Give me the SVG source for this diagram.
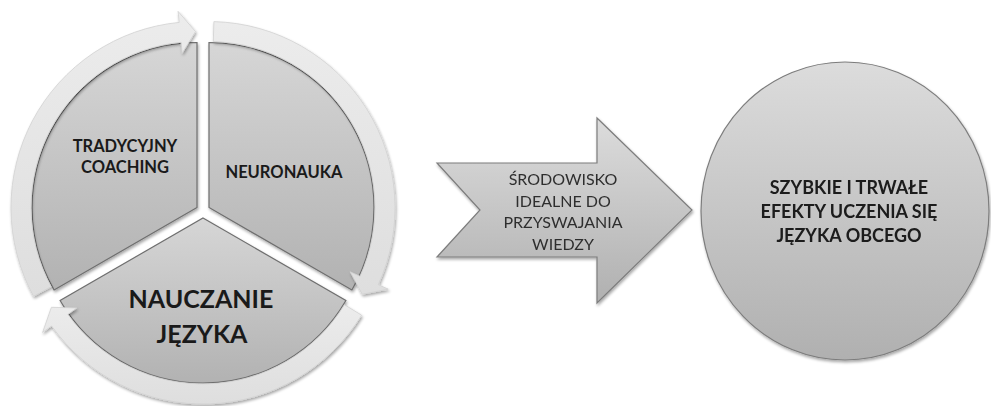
<svg xmlns="http://www.w3.org/2000/svg" width="991" height="406" viewBox="0 0 991 406">
<defs>
<linearGradient id="gPie" x1="0" y1="0" x2="0" y2="1">
<stop offset="0" stop-color="#d6d6d6"/>
<stop offset="1" stop-color="#b2b2b2"/>
</linearGradient>
<linearGradient id="gRing" x1="0" y1="0" x2="0" y2="1">
<stop offset="0" stop-color="#ececec"/>
<stop offset="1" stop-color="#dedede"/>
</linearGradient>
<linearGradient id="gShape" x1="0" y1="0" x2="0" y2="1">
<stop offset="0" stop-color="#dcdcdc"/>
<stop offset="1" stop-color="#b0b0b0"/>
</linearGradient>
<filter id="sh" x="-10%" y="-10%" width="120%" height="120%">
<feGaussianBlur in="SourceAlpha" stdDeviation="1.5"/>
<feOffset dx="1" dy="1.5" result="b"/>
<feComponentTransfer><feFuncA type="linear" slope="0.35"/></feComponentTransfer>
<feMerge><feMergeNode/><feMergeNode in="SourceGraphic"/></feMerge>
</filter>
</defs>
<style>
.pie{fill:url(#gPie);stroke:#6f6f6f;stroke-width:1.2}
.ring{fill:url(#gRing);stroke:#d2d2d2;stroke-width:0.8}
.shape{fill:url(#gShape);stroke:#7d7d7d;stroke-width:1.2}
.tb{font-family:Lato,"Liberation Sans",sans-serif;font-weight:bold;fill:#1a1a1a;text-anchor:middle}
.tr{font-family:Lato,"Liberation Sans",sans-serif;fill:#2e2e2e;text-anchor:middle}
</style>
<rect width="991" height="406" fill="#ffffff"/>

<g id="seg-tradycyjny" filter="url(#sh)">
<path class="pie" d="M197,207.5 L54.1,290 A165,165 0 0 1 197,42.5 Z"/>
</g>
<g id="seg-neuronauka" filter="url(#sh)">
<path class="pie" d="M209,207.5 L209,42.5 A165,165 0 0 1 351.9,290 Z"/>
</g>
<g id="seg-nauczanie" filter="url(#sh)">
<path class="pie" d="M203,218 L345.9,300.5 A165,165 0 0 1 60.1,300.5 Z"/>
</g>

<g id="connectors" filter="url(#sh)">
<path class="ring" d="M33.5,296.3 A186,186 0 0 1 179.2,22.4 L178.1,11.4 L195.5,31.5 L182.2,53.2 L181.1,42.3 A166,166 0 0 0 51.1,286.7 Z"/>
<path class="ring" d="M213.9,21.6 A186,186 0 0 1 378.3,284.6 L388.3,289.2 L362.2,294.2 L350.1,271.8 L360.1,276.3 A166,166 0 0 0 213.3,41.6 Z"/>
<path class="ring" d="M361.6,315.2 A186,186 0 0 1 51.6,326 L42.6,332.4 L51.4,307.3 L76.8,308 L67.9,314.4 A166,166 0 0 0 344.5,304.7 Z"/>
</g>

<g id="label-tradycyjny">
<text class="tb" x="125" y="152" font-size="16.5">TRADYCYJNY</text>
<text class="tb" x="125" y="173" font-size="16.5">COACHING</text>
</g>
<g id="label-neuronauka">
<text class="tb" x="284" y="178" font-size="16.5">NEURONAUKA</text>
</g>
<g id="label-nauczanie">
<text class="tb" x="201" y="308" font-size="25">NAUCZANIE</text>
<text class="tb" x="202" y="343" font-size="25">JĘZYKA</text>
</g>

<g id="arrow-srodowisko" filter="url(#sh)">
<path class="shape" d="M437,163 L597,163 L597,118 L692,210 L597,303 L597,257 L437,257 L480,210 Z"/>
<text class="tr" x="563" y="185" font-size="16">ŚRODOWISKO</text>
<text class="tr" x="563" y="207" font-size="16">IDEALNE DO</text>
<text class="tr" x="563" y="228" font-size="16">PRZYSWAJANIA</text>
<text class="tr" x="563" y="250" font-size="16">WIEDZY</text>
</g>

<g id="circle-efekty" filter="url(#sh)">
<ellipse class="shape" cx="845" cy="211" rx="144" ry="149"/>
<text class="tb" x="849" y="194" font-size="18">SZYBKIE I TRWAŁE</text>
<text class="tb" x="849" y="218" font-size="18">EFEKTY UCZENIA SIĘ</text>
<text class="tb" x="849" y="242" font-size="18">JĘZYKA OBCEGO</text>
</g>
</svg>
